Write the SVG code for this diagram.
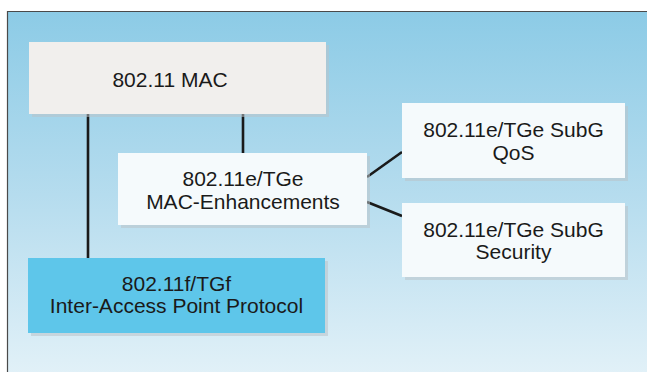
<svg xmlns="http://www.w3.org/2000/svg" width="647" height="372" viewBox="0 0 647 372">
  <defs>
    <linearGradient id="bg" x1="0" y1="0" x2="0" y2="1">
      <stop offset="0" stop-color="#8ccbe6"/>
      <stop offset="0.5" stop-color="#b5dcee"/>
      <stop offset="1" stop-color="#e2f1f8"/>
    </linearGradient>
  </defs>
  <style>
    .shadow { fill: #b9c3c8; opacity: 0.55; }
    .mac { fill: #f1efed; }
    .wbox { fill: #f5fafc; }
    .bbox { fill: #5ec6ea; }
    .lbl { font-family: "Liberation Sans", Arial, sans-serif; font-size: 21px; fill: #1a1a1a; text-anchor: middle; }
    .conn { stroke: #1a1a1a; stroke-width: 2.6; fill: none; }
  </style>
  <rect x="0" y="0" width="647" height="372" fill="#ffffff"/>
  <rect x="7" y="11" width="645" height="366" fill="url(#bg)"/>
  <path d="M7.5,372 V11.5 H647" stroke="#4a4a4a" stroke-width="1.2" fill="none"/>

  <g id="connectors">
    <line class="conn" x1="88" y1="114" x2="88" y2="258"/>
    <line class="conn" x1="243" y1="114" x2="243" y2="153"/>
    <line class="conn" x1="367" y1="177" x2="402" y2="152"/>
    <line class="conn" x1="367" y1="202" x2="402" y2="216"/>
  </g>

  <g id="mac">
    <rect class="shadow" x="32" y="45" width="297" height="72"/>
    <rect class="mac" x="29" y="42" width="297" height="72"/>
    <text class="lbl" x="170" y="87">802.11 MAC</text>
  </g>

  <g id="mac-enh">
    <rect class="shadow" x="121" y="156" width="249" height="72"/>
    <rect class="wbox" x="118" y="153" width="249" height="72"/>
    <text class="lbl" x="243" y="186">802.11e/TGe</text>
    <text class="lbl" x="243" y="209">MAC-Enhancements</text>
  </g>

  <g id="qos">
    <rect class="shadow" x="405" y="106" width="223" height="75"/>
    <rect class="wbox" x="402" y="103" width="223" height="75"/>
    <text class="lbl" x="513.5" y="137">802.11e/TGe SubG</text>
    <text class="lbl" x="513.5" y="160">QoS</text>
  </g>

  <g id="security">
    <rect class="shadow" x="405" y="206" width="223" height="74"/>
    <rect class="wbox" x="402" y="203" width="223" height="74"/>
    <text class="lbl" x="513.5" y="237">802.11e/TGe SubG</text>
    <text class="lbl" x="513.5" y="259">Security</text>
  </g>

  <g id="tgf">
    <rect class="shadow" x="31" y="261" width="297" height="75"/>
    <rect class="bbox" x="28" y="258" width="297" height="75"/>
    <text class="lbl" x="176.5" y="291">802.11f/TGf</text>
    <text class="lbl" x="176.5" y="313">Inter-Access Point Protocol</text>
  </g>
</svg>
